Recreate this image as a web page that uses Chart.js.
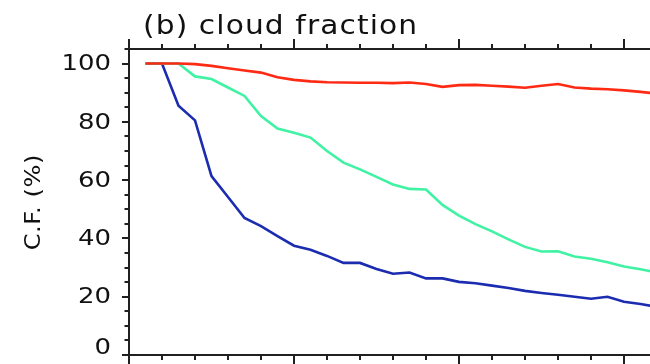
<!DOCTYPE html>
<html>
<head>
<meta charset="utf-8">
<script src="https://cdn.jsdelivr.net/npm/chart.js@4.4.1/dist/chart.umd.min.js"></script>
<style>
  html, body { margin: 0; padding: 0; background: #fff; width: 650px; height: 364px; overflow: hidden; }
  #wrap { position: absolute; left: 0; top: 0; width: 660px; height: 364px; }
</style>
</head>
<body>
<div id="wrap"><canvas id="cf" width="660" height="364"></canvas></div>
<script>
// Step index along the horizontal axis
const steps = [1, 2, 3, 4, 5, 6, 7, 8, 9, 10, 11, 12, 13, 14, 15, 16,
               17, 18, 19, 20, 21, 22, 23, 24, 25, 26, 27, 28, 29, 30, 31, 32];

// Cloud fraction (%) for the three cases
const cfRed = [100, 100, 100, 99.8, 99.2, 98.4, 97.6, 96.9, 95.3, 94.4, 93.9, 93.6, 93.5, 93.4, 93.4, 93.3,
               93.5, 93.0, 92.0, 92.6, 92.7, 92.4, 92.1, 91.7, 92.4, 93.0, 91.8, 91.4, 91.2, 90.8, 90.3, 89.7];
const cfGreen = [100, 100, 100, 95.6, 94.7, 91.8, 88.9, 82.0, 77.7, 76.3, 74.6, 70.0, 66.0, 63.7, 61.1, 58.5,
                 57.0, 56.8, 51.5, 47.8, 44.9, 42.4, 39.7, 37.1, 35.5, 35.6, 33.8, 33.0, 31.8, 30.4, 29.4, 28.3];
const cfBlue = [100, 100, 85.5, 80.5, 61.4, 54.2, 47.0, 44.2, 40.8, 37.5, 36.1, 34.0, 31.6, 31.6, 29.5, 27.9,
                28.3, 26.3, 26.3, 25.1, 24.6, 23.8, 23.0, 22.0, 21.3, 20.7, 20.0, 19.3, 20.0, 18.3, 17.5, 16.5];

// Axis ticks
const yMajorTicks = [0, 20, 40, 60, 80, 100];
const yTickLabels = ['0', '20', '40', '60', '80', '100'];
const yMinorStep = 5;
const xMajorStep = 10;
const xMinorStep = 2;

const titleText = '(b) cloud fraction';
const yAxisTitle = 'C.F. (%)';

const toPoints = (vals) => vals.map((v, i) => ({ x: steps[i], y: v }));

const AXIS_COLOR = '#202020';
const FONT = '"DejaVu Sans", "Liberation Sans", sans-serif';

// Text drawn with a horizontal stretch and extra tracking
function drawStretchedText(ctx, text, x, y, size, sx, spacing, align) {
  ctx.save();
  ctx.font = size + 'px ' + FONT;
  ctx.letterSpacing = '0px';
  const w = ctx.measureText(text).width + spacing * (text.length - 1);
  let left = x;
  if (align === 'right') left = x - w * sx;
  else if (align === 'center') left = x - w * sx / 2;
  ctx.translate(left, y);
  ctx.scale(sx, 1);
  ctx.letterSpacing = spacing + 'px';
  ctx.textAlign = 'left';
  ctx.fillText(text, 0, 0);
  ctx.restore();
}

// Boxed frame with outward ticks, labels and titles
const framePlugin = {
  id: 'framePlugin',
  afterDatasetsDraw(chart) {
    const { ctx, chartArea: a, scales } = chart;
    const x = scales.x, y = scales.y;
    ctx.save();
    ctx.strokeStyle = AXIS_COLOR;
    ctx.lineWidth = 2;
    ctx.lineCap = 'butt';

    ctx.beginPath();
    ctx.moveTo(a.right, a.top);
    ctx.lineTo(a.left, a.top);
    ctx.lineTo(a.left, a.bottom);
    ctx.lineTo(a.right, a.bottom);
    ctx.lineTo(a.right, a.top);
    ctx.stroke();

    // left axis ticks
    ctx.beginPath();
    for (let v = y.min; v <= y.max + 1e-6; v += yMinorStep) {
      const py = Math.round(y.getPixelForValue(v));
      const len = yMajorTicks.includes(v) ? 7 : 4.5;
      ctx.moveTo(a.left, py);
      ctx.lineTo(a.left - len, py);
    }
    // bottom and top axis ticks
    for (let v = x.min; v <= x.max + 1e-6; v += xMinorStep) {
      const px = Math.round(x.getPixelForValue(v));
      const len = (v % xMajorStep === 0) ? 10 : 5;
      ctx.moveTo(px, a.bottom);
      ctx.lineTo(px, a.bottom + len);
      ctx.moveTo(px, a.top);
      ctx.lineTo(px, a.top - len);
    }
    ctx.stroke();

    ctx.fillStyle = '#111';
    ctx.textBaseline = 'middle';
    yMajorTicks.forEach((v, i) => {
      let py = y.getPixelForValue(v);
      // keep the lowest label inside the frame
      py = Math.min(py, a.bottom - 8);
      drawStretchedText(ctx, yTickLabels[i], a.left - 18, py + 1, 22, 1.18, 0, 'right');
    });

    ctx.textBaseline = 'alphabetic';
    drawStretchedText(ctx, titleText, 143, 34, 27, 1.1, 1, 'left');

    ctx.save();
    ctx.translate(40, 202.5);
    ctx.rotate(-Math.PI / 2);
    ctx.textBaseline = 'alphabetic';
    drawStretchedText(ctx, yAxisTitle, 0, 0, 22, 1.1, 0.5, 'center');
    ctx.restore();

    ctx.restore();
  }
};

new Chart(document.getElementById('cf'), {
  type: 'line',
  data: {
    datasets: [
      { label: 'red', data: toPoints(cfRed), borderColor: '#ff2a14', borderWidth: 2.6 },
      { label: 'green', data: toPoints(cfGreen), borderColor: '#40f2a4', borderWidth: 2.6 },
      { label: 'blue', data: toPoints(cfBlue), borderColor: '#1c2cb0', borderWidth: 2.6 }
    ]
  },
  options: {
    responsive: false,
    devicePixelRatio: 1,
    animation: false,
    layout: { padding: { left: 129, top: 49, right: 3, bottom: 9 } },
    elements: { point: { radius: 0 }, line: { tension: 0 } },
    plugins: { legend: { display: false }, tooltip: { enabled: false }, title: { display: false } },
    scales: {
      x: { type: 'linear', min: 0, max: 32, display: false },
      y: { type: 'linear', min: 0, max: 105, display: false }
    }
  },
  plugins: [framePlugin]
});
</script>
</body>
</html>
